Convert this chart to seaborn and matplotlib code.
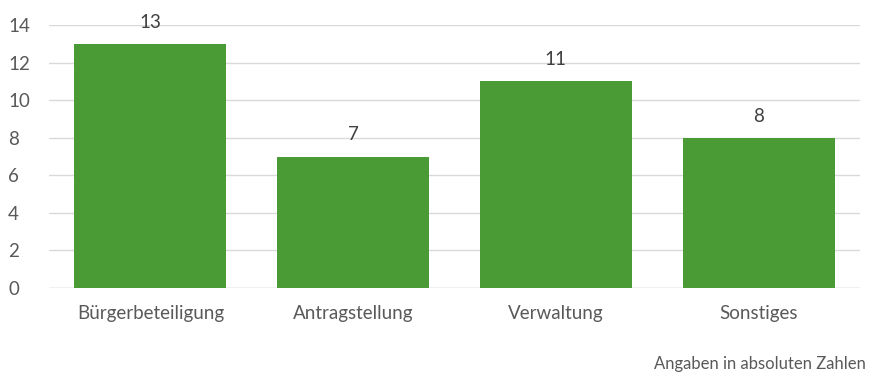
import pandas as pd
import matplotlib.pyplot as plt
import seaborn as sns

# data
categories = ['Bürgerbeteiligung', 'Antragstellung', 'Verwaltung', 'Sonstiges']
values = [13, 7, 11, 8]
yticks = [0, 2, 4, 6, 8, 10, 12, 14]

df = pd.DataFrame({'kategorie': categories, 'anzahl': values})

sns.set_style('white')
plt.rcParams['font.family'] = ['Lato', 'DejaVu Sans']
grey = '#595959'

fig = plt.figure(figsize=(8.69, 3.74), dpi=100)
ax = fig.add_axes([0.0564, 0.2299, 0.9332, 0.7033])
sns.barplot(data=df, x='kategorie', y='anzahl', color='#4A9A35', width=0.75,
            saturation=1, linewidth=0, ax=ax, zorder=3)

ax.set_xlim(-0.5, 3.5)
ax.set_ylim(0, 14)
ax.set_yticks(yticks)
ax.yaxis.grid(True, color='#D9D9D9', linewidth=1, zorder=0)
ax.set_axisbelow(True)
for s in ax.spines.values():
    s.set_visible(False)
ax.axhline(0, color='#D9D9D9', linewidth=1, zorder=1)

ax.set_xlabel('')
ax.set_ylabel('')
ax.tick_params(axis='both', length=0, labelsize=13.5, colors=grey)
ax.tick_params(axis='x', pad=12)
ax.tick_params(axis='y', pad=29.5)
for lbl in ax.get_yticklabels():
    lbl.set_horizontalalignment('left')

# Werte über den Balken
for i, v in enumerate(values):
    ax.text(i, v + 0.7, str(v), ha='center', va='bottom', fontsize=13.5, color='#404040')

fig.text(0.996, 0.006, 'Angaben in absoluten Zahlen', ha='right', va='bottom',
         fontsize=12, color=grey)

plt.savefig('out.png', dpi=100)
